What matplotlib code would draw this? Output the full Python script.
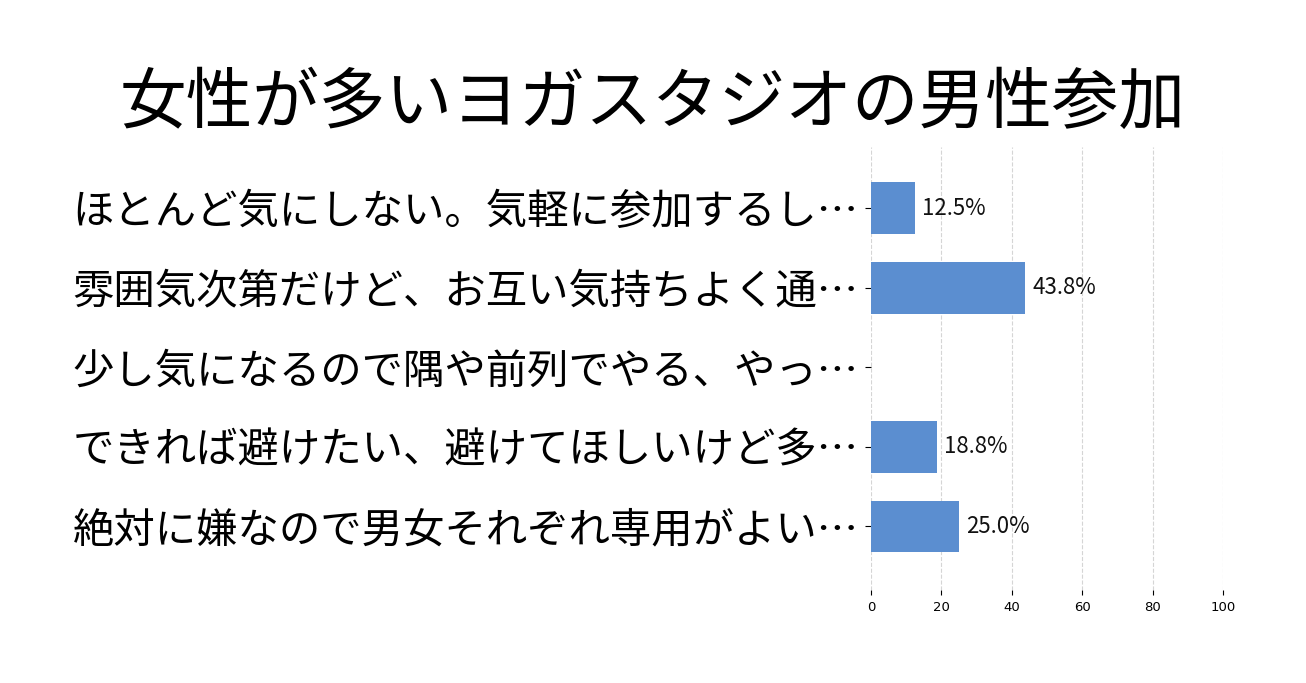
import matplotlib.pyplot as plt

plt.rcParams['font.family'] = ['Noto Sans CJK JP', 'DejaVu Sans']

title = "女性が多いヨガスタジオの男性参加"
labels = [
    "ほとんど気にしない。気軽に参加するし…",
    "雰囲気次第だけど、お互い気持ちよく通…",
    "少し気になるので隅や前列でやる、やっ…",
    "できれば避けたい、避けてほしいけど多…",
    "絶対に嫌なので男女それぞれ専用がよい…",
]
values = [12.5, 43.8, 0.0, 18.8, 25.0]
xticks = [0, 20, 40, 60, 80, 100]

fig = plt.figure(figsize=(13.06, 6.83), dpi=100)
ax = fig.add_axes([0.667, 0.136, 0.2695, 0.649])

ypos = list(range(len(labels)))
ax.barh(ypos, values, height=0.65, color='#5B8ED0', zorder=3)

for y, v in zip(ypos, values):
    if v > 0:
        ax.text(v + 2, y, f"{v:.1f}%", va='center', ha='left', fontsize=16,
                color='#111111')

ax.set_yticks(ypos)
ax.set_yticklabels(labels, fontsize=29.8)
ax.set_ylim(4.8, -0.77)
ax.set_xlim(0, 100)
ax.set_xticks(xticks)
ax.set_xticklabels([str(t) for t in xticks], family='DejaVu Sans', fontsize=9.5)

ax.tick_params(axis='y', length=4, pad=5)
ax.tick_params(axis='x', length=3.5, pad=4)
for s in ax.spines.values():
    s.set_visible(False)
ax.grid(axis='x', color='#d5d5d5', linestyle='--', linewidth=0.8, zorder=0)

fig.text(0.5, 0.848, title, ha='center', va='center', fontsize=48)

fig.savefig('out.png', dpi=100)
